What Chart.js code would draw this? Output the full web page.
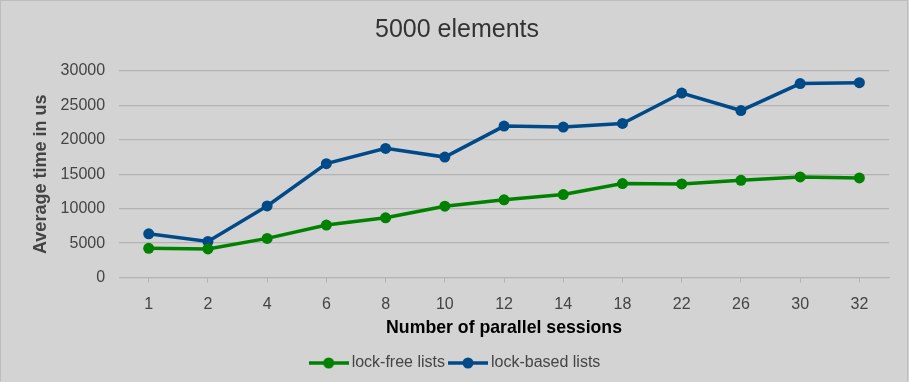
<!DOCTYPE html>
<html>
<head>
<meta charset="utf-8">
<script src="https://cdn.jsdelivr.net/npm/chart.js@4"></script>
<style>
  html, body { margin: 0; padding: 0; background: #d3d3d3; }
  #wrap { position: relative; width: 906px; height: 380px; border-top: 1px solid #bdbdbd; border-left: 1px solid #bdbdbd; border-right: 1px solid #bdbdbd; }
</style>
</head>
<body>
<div id="wrap"><canvas id="chart"></canvas></div>
<script>
// so phien song song va thoi gian trung binh (us)
const sessions = ['1', '2', '4', '6', '8', '10', '12', '14', '18', '22', '26', '30', '32'];
const lockFree = [4240, 4150, 5690, 7620, 8680, 10370, 11290, 12060, 13650, 13600, 14130, 14610, 14470];
const lockBased = [6350, 5250, 10400, 16540, 18760, 17500, 22000, 21850, 22380, 26800, 24260, 28170, 28310];
const yTicks = [0, 5000, 10000, 15000, 20000, 25000, 30000];

const GREEN = '#008200';
const BLUE = '#004a8a';
const GRID = '#b3b3b3';

// ve icon legend: doan thang + cham tron
function legendIcon(color) {
  const c = document.createElement('canvas');
  c.width = 40; c.height = 14;
  const ctx = c.getContext('2d');
  ctx.strokeStyle = color;
  ctx.lineWidth = 3.5;
  ctx.beginPath(); ctx.moveTo(0, 7); ctx.lineTo(40, 7); ctx.stroke();
  ctx.fillStyle = color;
  ctx.beginPath(); ctx.arc(20, 7, 5.5, 0, Math.PI * 2); ctx.fill();
  return c;
}

const font = 'Liberation Sans, Arial, sans-serif';

new Chart(document.getElementById('chart'), {
  type: 'line',
  data: {
    labels: sessions,
    datasets: [
      {
        label: 'lock-free lists',
        data: lockFree,
        borderColor: GREEN,
        backgroundColor: GREEN,
        borderWidth: 3.5,
        pointRadius: 5.5,
        pointBorderWidth: 0,
        tension: 0
      },
      {
        label: 'lock-based lists',
        data: lockBased,
        borderColor: BLUE,
        backgroundColor: BLUE,
        borderWidth: 3.5,
        pointRadius: 5.5,
        pointBorderWidth: 0,
        tension: 0
      }
    ]
  },
  options: {
    responsive: true,
    maintainAspectRatio: false,
    animation: false,
    layout: { padding: { left: 24, right: 18, top: 6, bottom: 0 } },
    elements: { point: { pointStyle: 'circle' } },
    plugins: {
      title: {
        display: true,
        text: '5000 elements',
        color: '#333333',
        font: { family: font, size: 25, weight: 'normal' },
        padding: { top: 8, bottom: 26 }
      },
      legend: {
        position: 'bottom',
        labels: {
          usePointStyle: true,
          pointStyleWidth: 30,
          padding: 8,
          color: '#444444',
          font: { family: font, size: 16 },
          generateLabels: chart => chart.data.datasets.map((ds, i) => ({
            text: ds.label,
            pointStyle: legendIcon(ds.borderColor),
            fillStyle: ds.borderColor,
            strokeStyle: ds.borderColor,
            lineWidth: 0,
            hidden: false,
            datasetIndex: i,
            fontColor: '#444444'
          }))
        }
      },
      tooltip: { enabled: false }
    },
    scales: {
      x: {
        offset: true,
        grid: { offset: false, drawOnChartArea: false, drawTicks: true, tickLength: 5, color: GRID },
        border: { color: GRID, width: 1 },
        ticks: { color: '#444444', font: { family: font, size: 16 }, padding: 12 },
        title: {
          display: true,
          text: 'Number of parallel sessions',
          color: '#000000',
          font: { family: font, size: 17.7, weight: 'bold' },
          padding: { top: -8, bottom: 8 }
        }
      },
      y: {
        min: 0,
        max: 30000,
        afterBuildTicks: axis => { axis.ticks = yTicks.map(v => ({ value: v })); },
        grid: { drawTicks: false, color: GRID, lineWidth: 1.3 },
        border: { display: false },
        ticks: { color: '#444444', font: { family: font, size: 16 }, padding: 14, callback: v => String(v) },
        title: {
          display: true,
          text: 'Average time in us',
          color: '#444444',
          font: { family: font, size: 18, weight: 'bold' },
          padding: { top: 5, bottom: -5 }
        }
      }
    }
  }
});
</script>
</body>
</html>
